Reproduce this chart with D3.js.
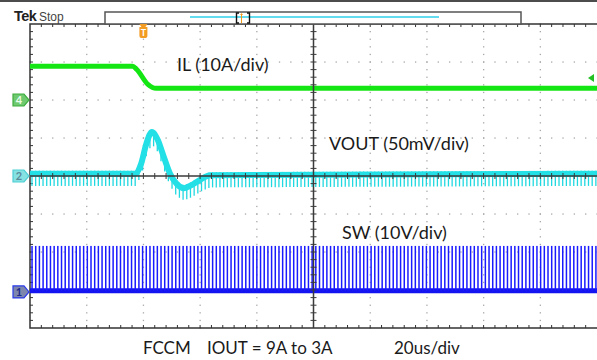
<!DOCTYPE html>
<html>
<head>
<meta charset="utf-8">
<script src="https://cdn.jsdelivr.net/npm/d3@7"></script>
<style>
  body { margin: 0; background: #fff; }
  svg { display: block; font-family: Lato, "Open Sans", sans-serif; }
</style>
</head>
<body>
<script>
// scope settings
var timeRange = [0, 200];     // us, 20us/div x 10 div
var divRange = [-4, 4];       // vertical divisions
var triggerTime = 40;         // us
var swPeriod = 1.3;           // us between switching edges
var swFirst = 0.7;            // us, first edge on screen

// IL (ch4), 10A/div, marker at +2 div
var ilTimes = [0, 36.2, 37.6, 41.6, 43.2, 44.5, 200];
var ilAmps  = [8.9, 8.9, 8.1, 4.1, 3.3, 3.1, 3.1];

// VOUT (ch2), 50mV/div, marker at 0 div, ac deviation in mV
var voutTimes = [0, 37.2, 39.2, 41, 43, 45, 47.3, 49.4, 51.9, 54.3, 57, 60, 63.5, 200];
var voutMv    = [3, 3, 16, 42, 58, 48, 24, 3, -11, -16, -12, -5, 1, 3];
var voutSpike = -16;          // mV dip at every switching edge

// SW (ch1), 10V/div, marker at -3.05 div
var swLow = 0.3;
var swHigh = 12.1;

var traceLabels = ["IL (10A/div)", "VOUT (50mV/div)", "SW (10V/div)"];
var footerLabels = ["FCCM", "IOUT = 9A to 3A", "20us/div"];

var W = 597, H = 360;

var svg = d3.select("body").append("svg")
    .attr("width", W)
    .attr("height", H);

var x = d3.scaleLinear().domain(timeRange).range([30, 597]);
var y = d3.scaleLinear().domain(divRange).range([328, 24]);

// channel scales: value -> pixel
var yIL = function(a) { return y(2 + a / 10); };
var yVout = function(mv) { return y(mv / 50); };
var ySW = function(v) { return y(-3.05 + v / 10); };

// top frame line
svg.append("line")
    .attr("x1", 0).attr("x2", W)
    .attr("y1", 1).attr("y2", 1)
    .attr("stroke", "#111").attr("stroke-width", 1.6);

// graticule dots
var grid = svg.append("g").attr("fill", "#a8a8a8");
d3.range(1, 10).filter(function(d) { return d != 5; }).forEach(function(i) {
  d3.range(0, 41).forEach(function(k) {
    grid.append("rect")
        .attr("x", x(i * 20) - 0.6).attr("y", y(4 - k / 5) - 0.6)
        .attr("width", 1.3).attr("height", 1.3);
  });
});
d3.range(-3, 4).filter(function(d) { return d != 0; }).forEach(function(j) {
  d3.range(0, 51).forEach(function(k) {
    grid.append("rect")
        .attr("x", x(k * 4) - 0.6).attr("y", y(j) - 0.6)
        .attr("width", 1.3).attr("height", 1.3);
  });
});

// border with inward ticks
var frame = svg.append("g").attr("stroke", "#333").attr("stroke-width", 1.5);
frame.append("path")
    .attr("fill", "none")
    .attr("d", "M" + x(200) + "," + y(4) + "H" + x(0) + "V" + y(-4) + "H" + x(200));
d3.range(1, 50).forEach(function(k) {
  frame.append("line").attr("stroke-width", 1)
      .attr("x1", x(k * 4)).attr("x2", x(k * 4))
      .attr("y1", y(4)).attr("y2", y(4) + 3);
  frame.append("line").attr("stroke-width", 1)
      .attr("x1", x(k * 4)).attr("x2", x(k * 4))
      .attr("y1", y(-4)).attr("y2", y(-4) - 3);
});
d3.range(1, 40).forEach(function(k) {
  frame.append("line").attr("stroke-width", 1)
      .attr("x1", x(0)).attr("x2", x(0) + 3)
      .attr("y1", y(4 - k / 5)).attr("y2", y(4 - k / 5));
});

// SW trace: baseline plus one narrow pulse per switching edge
var edges = d3.range(swFirst, timeRange[1], swPeriod);
var swG = svg.append("g");
swG.append("line")
    .attr("x1", x(0)).attr("x2", x(200))
    .attr("y1", ySW(swLow)).attr("y2", ySW(swLow))
    .attr("stroke", "#1414f0").attr("stroke-width", 5);
swG.selectAll("rect").data(edges).join("rect")
    .attr("x", function(d) { return x(d) - 0.7; })
    .attr("y", ySW(swHigh))
    .attr("width", 1.5)
    .attr("height", ySW(swLow) - ySW(swHigh))
    .attr("fill", "#1a1aff");

// VOUT trace
var voutPts = voutTimes.map(function(t, i) { return [t, voutMv[i]]; });
var voutAt = function(t) {
  var i = d3.bisector(function(p) { return p[0]; }).right(voutPts, t);
  i = Math.max(1, Math.min(voutPts.length - 1, i));
  var a = voutPts[i - 1], b = voutPts[i];
  return a[1] + (b[1] - a[1]) * (t - a[0]) / (b[0] - a[0]);
};
var vG = svg.append("g");
vG.selectAll("line").data(edges).join("line")
    .attr("x1", function(d) { return x(d); })
    .attr("x2", function(d) { return x(d); })
    .attr("y1", function(d) { return yVout(voutAt(d) + 4); })
    .attr("y2", function(d) { return yVout(voutAt(d) + voutSpike); })
    .attr("stroke", "#20d8e0").attr("stroke-width", 1.3);
vG.append("path")
    .datum(voutPts)
    .attr("fill", "none")
    .attr("stroke", "#22e0e6")
    .attr("stroke-width", 6)
    .attr("d", d3.line()
        .x(function(d) { return x(d[0]); })
        .y(function(d) { return yVout(d[1]); })
        .curve(d3.curveMonotoneX));

// IL trace
svg.append("path")
    .datum(ilTimes.map(function(t, i) { return [t, ilAmps[i]]; }))
    .attr("fill", "none")
    .attr("stroke", "#14e614")
    .attr("stroke-width", 5)
    .attr("d", d3.line()
        .x(function(d) { return x(d[0]); })
        .y(function(d) { return yIL(d[1]); })
        .curve(d3.curveMonotoneX));

// center axes with ticks, drawn over the traces
var axes = svg.append("g").attr("stroke", "#3a3a3a");
axes.append("line")
    .attr("x1", x(100)).attr("x2", x(100))
    .attr("y1", y(4)).attr("y2", y(-4)).attr("stroke-width", 1.5);
axes.append("line")
    .attr("x1", x(0)).attr("x2", x(200))
    .attr("y1", y(0)).attr("y2", y(0)).attr("stroke-width", 1.3);
d3.range(1, 40).forEach(function(k) {
  axes.append("line").attr("stroke-width", 1)
      .attr("x1", x(100) - 3).attr("x2", x(100) + 3)
      .attr("y1", y(4 - k / 5)).attr("y2", y(4 - k / 5));
});
d3.range(1, 50).forEach(function(k) {
  axes.append("line").attr("stroke-width", 1)
      .attr("x1", x(k * 4)).attr("x2", x(k * 4))
      .attr("y1", y(0) - 3).attr("y2", y(0) + 3);
});

// channel markers on the left
function marker(cy, fill, edge, label, color) {
  var g = svg.append("g");
  g.append("path")
      .attr("d", "M13," + (cy - 6) + "H24L29," + cy + "L24," + (cy + 6) + "H13Z")
      .attr("fill", fill).attr("stroke", edge).attr("stroke-width", 1.2);
  g.append("text")
      .attr("x", 19).attr("y", cy + 4)
      .attr("text-anchor", "middle")
      .attr("font-size", 11).attr("font-weight", "bold")
      .attr("fill", color)
      .text(label);
}
marker(yIL(0), "#6fc96f", "#3fae3f", "4", "#eaffea");
marker(yVout(0), "#86e2e2", "#4fcfd4", "2", "#5a8a9a");
marker(ySW(0), "#7d87ad", "#2a3ae8", "1", "#1d2a8a");

// trigger level arrow on the right
svg.append("path")
    .attr("d", "M588," + yIL(5.8) + "l6,-4v8z")
    .attr("fill", "#22c022");

// record bar at the top
svg.append("rect")
    .attr("x", 105).attr("y", 12)
    .attr("width", 416).attr("height", 12)
    .attr("fill", "#fff").attr("stroke", "#555").attr("stroke-width", 1.5);
svg.append("line")
    .attr("x1", 190).attr("x2", 439)
    .attr("y1", 17).attr("y2", 17)
    .attr("stroke", "#2ed0e8").attr("stroke-width", 1.5);
svg.append("path")
    .attr("d", "M239,13h-2.5v10h2.5M247,13h2.5v10h-2.5")
    .attr("fill", "none").attr("stroke", "#111").attr("stroke-width", 1.4);
svg.append("path")
    .attr("d", "M240,15l1.5,-2l1.5,2h-1v8h-1v-8z")
    .attr("fill", "#f29a1a");

// trigger position marker
var tx = x(triggerTime);
svg.append("path")
    .attr("d", "M" + (tx - 4) + ",24h8l-2,3h2v9a2,2 0 0 1 -2,2h-4a2,2 0 0 1 -2,-2v-9h2z")
    .attr("fill", "#f39c23");
svg.append("text")
    .attr("x", tx).attr("y", 36)
    .attr("text-anchor", "middle")
    .attr("font-size", 9).attr("font-weight", "bold")
    .attr("fill", "#fff")
    .text("T");

// header text
svg.append("text")
    .attr("x", 14).attr("y", 21)
    .attr("font-family", "'Liberation Sans', Arial, sans-serif")
    .attr("font-size", 14.5).attr("font-weight", "bold")
    .attr("letter-spacing", -0.6)
    .attr("fill", "#222")
    .text("Tek");
svg.append("text")
    .attr("x", 39).attr("y", 21)
    .attr("font-family", "'Liberation Sans', Arial, sans-serif")
    .attr("font-size", 12)
    .attr("fill", "#444")
    .text("Stop");

// trace labels
var labelPos = [[177, 71], [329, 150], [342, 239]];
svg.selectAll("text.trace").data(traceLabels).join("text")
    .attr("class", "trace")
    .attr("x", function(d, i) { return labelPos[i][0]; })
    .attr("y", function(d, i) { return labelPos[i][1]; })
    .attr("font-size", 18)
    .attr("fill", "#1a1a1a")
    .text(function(d) { return d; });

// footer, sitting right at the bottom edge
var footX = [143, 207, 394];
svg.selectAll("text.foot").data(footerLabels).join("text")
    .attr("class", "foot")
    .attr("x", function(d, i) { return footX[i]; })
    .attr("y", 354)
    .attr("font-size", 17)
    .attr("fill", "#1a1a1a")
    .text(function(d) { return d; });
</script>
</body>
</html>
